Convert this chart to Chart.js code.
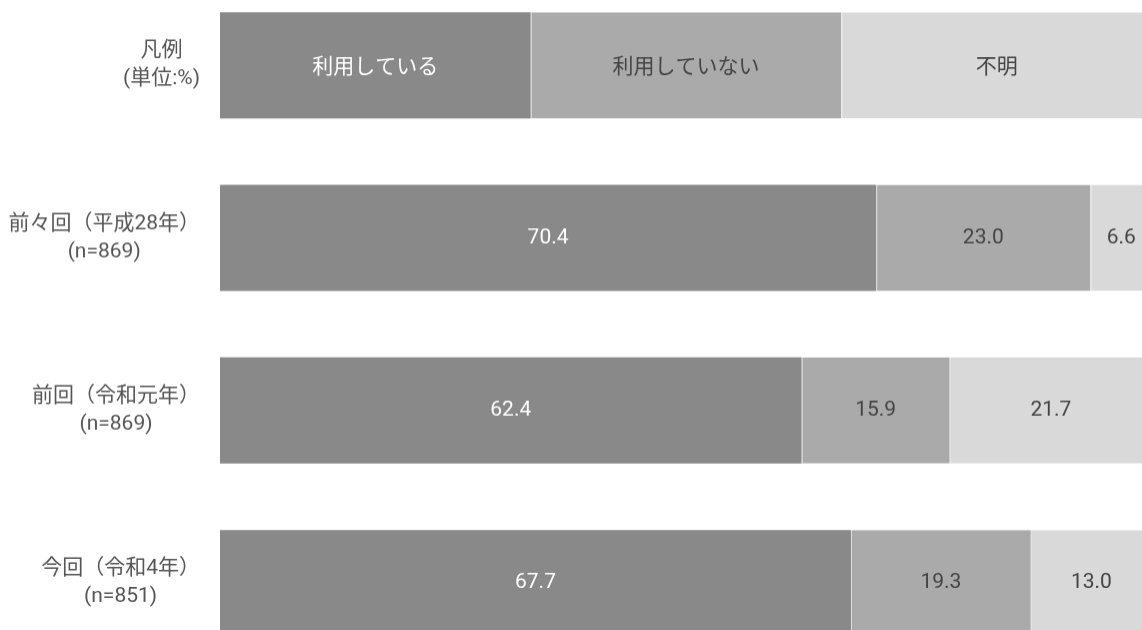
<!DOCTYPE html>
<html lang="ja">
<head>
<meta charset="utf-8">
<title>利用状況</title>
<script src="https://cdn.jsdelivr.net/npm/chart.js@4.4.1/dist/chart.umd.min.js"></script>
<style>
  html, body { margin: 0; padding: 0; background: #fff; overflow: hidden; width: 1142px; height: 630px; }
  #wrap { position: absolute; left: 0; top: -20.8px; width: 1152px; height: 689.3px; }
</style>
</head>
<body>
<div id="wrap"><canvas id="chart"></canvas></div>
<script>
// row labels (first row is the legend row)
const rowLabels = [
    ['凡例', '(単位:%)'],
    ['前々回（平成28年）', '(n=869)'],
    ['前回（令和元年）', '(n=869)'],
    ['今回（令和4年）', '(n=851)']
];
const seriesNames = ['利用している', '利用していない', '不明'];
const legendShare = 100 / 3;
const usingValues = [legendShare, 70.4, 62.4, 67.7];
const notUsingValues = [legendShare, 23.0, 15.9, 19.3];
const unknownValues = [legendShare, 6.6, 21.7, 13.0];

const colors = ['#898989', '#aaaaaa', '#d9d9d9'];
const textColors = ['#ffffff', '#444444', '#444444'];
const fontFamily = "Roboto, 'Noto Sans CJK JP', sans-serif";

// draws the text in the middle of each bar segment
const barTextPlugin = {
    id: 'barText',
    afterDatasetsDraw(chart) {
        const ctx = chart.ctx;
        ctx.save();
        ctx.textAlign = 'center';
        ctx.textBaseline = 'middle';
        chart.data.datasets.forEach((ds, di) => {
            const meta = chart.getDatasetMeta(di);
            meta.data.forEach((bar, i) => {
                const x = (bar.x + bar.base) / 2;
                let text;
                if (i === 0) {
                    text = seriesNames[di];
                    ctx.font = "21px 'Noto Sans CJK JP', sans-serif";
                } else {
                    text = ds.data[i].toFixed(1);
                    ctx.font = '21px ' + fontFamily;
                }
                ctx.fillStyle = textColors[di];
                ctx.fillText(text, x, bar.y);
            });
        });
        ctx.restore();
    }
};

// row labels: block right aligned, lines centred inside the block
const rowLabelPlugin = {
    id: 'rowLabels',
    afterDraw(chart) {
        const ctx = chart.ctx;
        const yScale = chart.scales.y;
        const rightEdge = chart.chartArea.left - 20;
        ctx.save();
        ctx.font = '21px ' + fontFamily;
        ctx.fillStyle = '#555555';
        ctx.textAlign = 'center';
        ctx.textBaseline = 'middle';
        rowLabels.forEach((lines, i) => {
            const y = yScale.getPixelForValue(i);
            const w = Math.max(...lines.map(l => ctx.measureText(l).width));
            const cx = rightEdge - w / 2;
            const lineHeight = 28;
            lines.forEach((line, li) => {
                ctx.fillText(line, cx, y + (li - (lines.length - 1) / 2) * lineHeight);
            });
        });
        ctx.restore();
    }
};

const makeDataset = (label, data, idx) => ({
    label: label,
    data: data,
    backgroundColor: colors[idx],
    borderColor: '#dedede',
    borderWidth: { left: idx > 0 ? 1 : 0 },
    borderSkipped: false,
    categoryPercentage: 1,
    barPercentage: 0.615
});

new Chart(document.getElementById('chart'), {
    type: 'bar',
    data: {
        labels: rowLabels,
        datasets: [
            makeDataset(seriesNames[0], usingValues, 0),
            makeDataset(seriesNames[1], notUsingValues, 1),
            makeDataset(seriesNames[2], unknownValues, 2)
        ]
    },
    options: {
        indexAxis: 'y',
        responsive: true,
        maintainAspectRatio: false,
        animation: false,
        layout: { padding: { left: 220, right: 0, top: 0, bottom: 0 } },
        scales: {
            x: { stacked: true, min: 0, max: 100, display: false },
            y: { stacked: true, display: false }
        },
        plugins: {
            legend: { display: false },
            tooltip: { enabled: false }
        }
    },
    plugins: [barTextPlugin, rowLabelPlugin]
});
</script>
</body>
</html>
